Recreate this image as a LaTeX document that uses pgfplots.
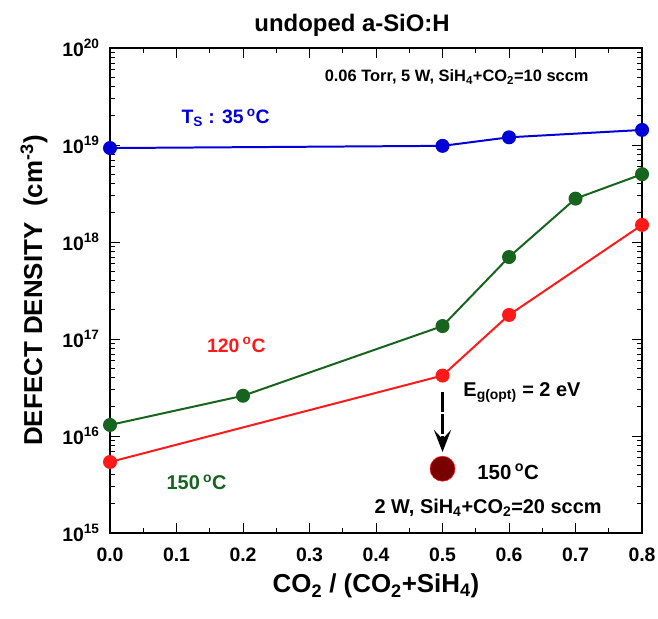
\documentclass[border=0pt]{standalone}
\usepackage{fontspec}
\setmainfont{Liberation Sans}
\usepackage{pgfplots}
\pgfplotsset{compat=1.18}
\usetikzlibrary{arrows.meta}
\definecolor{sblue}{RGB}{0,0,215}
\definecolor{sgreen}{RGB}{22,100,30}
\definecolor{sred}{RGB}{255,25,25}
\definecolor{sbrown}{RGB}{120,0,0}

\begin{document}
\begin{tikzpicture}
\begin{axis}[
    scale only axis,
    width=532bp, height=485bp,
    xmin=0, xmax=0.8,
    ymode=log, ymin=1e15, ymax=1e20,
    xtick={0,0.1,...,0.8},
    minor x tick num=1,
    ytick={1e15,1e16,1e17,1e18,1e19,1e20},
    yticklabels={10\textsuperscript{15},10\textsuperscript{16},10\textsuperscript{17},10\textsuperscript{18},10\textsuperscript{19},10\textsuperscript{20}},
    tick align=inside,
    major tick length=10bp, minor tick length=5bp,
    every tick/.style={black, line width=1pt},
    axis line style={line width=2pt},
    /pgf/number format/assume math mode=true,
    xticklabel style={yshift=-11bp, /pgf/number format/.cd, fixed, fixed zerofill, precision=1},
    yticklabel style={xshift=-7bp},
    tick label style={font=\bfseries\fontsize{19.5}{22}\selectfont},
    xlabel={CO\textsubscript{2} / (CO\textsubscript{2}+SiH\textsubscript{4})},
    ylabel={DEFECT DENSITY\hspace{16bp}(cm\textsuperscript{-3})},
    label style={font=\bfseries\fontsize{26}{29}\selectfont},
    ylabel style={yshift=8bp},
    xlabel style={yshift=-6bp},
    clip=false,
]
\addplot[sblue, line width=2pt, mark=*, mark size=6bp] coordinates {
(0,9.3e18) (0.5,9.8e18) (0.6,1.2e19) (0.8,1.43e19)};
\addplot[sgreen, line width=2pt, mark=*, mark size=6bp] coordinates {
(0,1.3e16) (0.2,2.6e16) (0.5,1.36e17) (0.6,7e17) (0.7,2.8e18) (0.8,5e18)};
\addplot[sred, line width=2pt, mark=*, mark size=6bp] coordinates {
(0,5.4e15) (0.5,4.2e16) (0.6,1.77e17) (0.8,1.5e18)};
\addplot[only marks, mark=*, mark size=12.5bp, draw=sred, fill=sbrown, line width=0.6pt] coordinates {
(0.5,4.6e15)};

\draw[line width=3.5pt, dash pattern=on 20bp off 2bp, -{Stealth[length=22bp,width=17bp,inset=9bp]}]
  (axis cs:0.5,2.84e16) -- (axis cs:0.5,6.84e15);

\begin{scope}[every node/.style={font=\bfseries\fontsize{16.5}{19}\selectfont, inner sep=0pt}]
\node[anchor=base] at (rel axis cs:0.455,1.033) {\fontsize{24}{27}\selectfont undoped a-SiO:H};
\node[anchor=east] at (rel axis cs:0.9,0.94) {0.06 Torr, 5 W, SiH\textsubscript{4}+CO\textsubscript{2}=10 sccm};
\node[anchor=west, sblue] at (rel axis cs:0.134,0.856) {\fontsize{19.5}{22}\selectfont T\textsubscript{S} : 35\,\textsuperscript{o}C};
\node[anchor=west, sred] at (rel axis cs:0.182,0.388) {\fontsize{19.5}{22}\selectfont 120\,\textsuperscript{o}C};
\node[anchor=west, sgreen] at (rel axis cs:0.106,0.105) {\fontsize{20}{23}\selectfont 150\,\textsuperscript{o}C};
\node[anchor=west] at (rel axis cs:0.664,0.29) {\fontsize{20}{23}\selectfont E\textsubscript{g(opt)} = 2 eV};
\node[anchor=west] at (rel axis cs:0.69,0.126) {\fontsize{20.5}{23}\selectfont 150\,\textsuperscript{o}C};
\node[anchor=west] at (rel axis cs:0.497,0.052) {\fontsize{20}{23}\selectfont 2 W, SiH\textsubscript{4}+CO\textsubscript{2}=20 sccm};
\end{scope}

\coordinate (bl) at (rel axis cs:-0.2068,-0.177);
\coordinate (tr) at (rel axis cs:1.030,1.099);
\end{axis}
\pgfresetboundingbox
\path (bl) rectangle (tr);
\end{tikzpicture}
\end{document}
